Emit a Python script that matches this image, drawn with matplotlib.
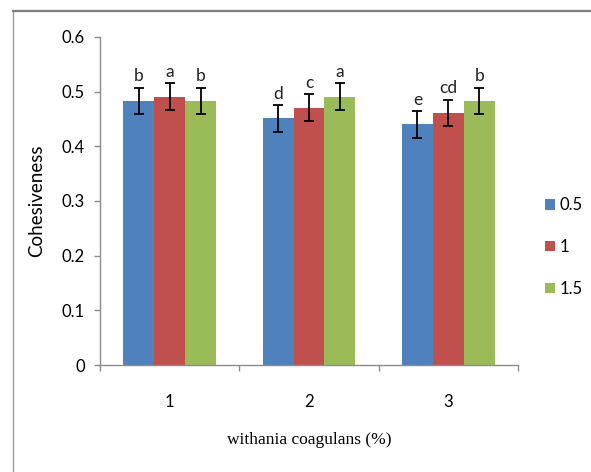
import matplotlib.pyplot as plt
import numpy as np
from matplotlib.patches import Patch
from matplotlib.lines import Line2D

# data
groups = ['1', '2', '3']
series_names = ['0.5', '1', '1.5']
values_05 = [0.483, 0.451, 0.440]
values_1 = [0.491, 0.471, 0.461]
values_15 = [0.483, 0.491, 0.483]
errors_05 = [0.024, 0.024, 0.024]
errors_1 = [0.024, 0.024, 0.024]
errors_15 = [0.024, 0.024, 0.024]
letters_05 = ['b', 'd', 'e']
letters_1 = ['a', 'c', 'cd']
letters_15 = ['b', 'a', 'b']

colors = ['#4F81BD', '#C0504D', '#9BBB59']
axis_color = '#8C8C8C'
tick_font = 'Lato'

W, H = 591, 472
fig = plt.figure(figsize=(W / 100, H / 100), dpi=100)
ax = fig.add_axes([100 / W, (H - 365) / H, 418 / W, 328 / H])

x = np.arange(len(groups)) + 1
bar_w = 0.222
series = [
    (values_05, errors_05, letters_05),
    (values_1, errors_1, letters_1),
    (values_15, errors_15, letters_15),
]
for i, (vals, errs, lets) in enumerate(series):
    pos = x + (i - 1) * bar_w
    ax.bar(pos, vals, width=bar_w, color=colors[i], zorder=2)
    ax.errorbar(pos, vals, yerr=errs, fmt='none', ecolor='black',
                elinewidth=1.3, capsize=3.3, capthick=1.3, zorder=3)
    for p, v, e, t in zip(pos, vals, errs, lets):
        ax.text(p, v + e + 0.007, t, ha='center', va='bottom',
                fontsize=12.5, family=tick_font, color='#222222')

ax.set_xlim(0.5, 3.5)
ax.set_ylim(0, 0.6)
ax.set_yticks(np.arange(0, 0.61, 0.1))
ax.set_yticklabels(['0', '0.1', '0.2', '0.3', '0.4', '0.5', '0.6'])
ax.set_xticks([0.5, 1.5, 2.5, 3.5])
ax.set_xticklabels([])
ax.set_xticks(x, minor=True)
ax.set_xticklabels(groups, minor=True)
ax.tick_params(axis='x', which='minor', length=0, pad=21, labelsize=12)
ax.tick_params(axis='x', which='major', length=4, color=axis_color, width=1)
ax.tick_params(axis='y', length=4, color=axis_color, width=1, pad=7, labelsize=12)
for lab in ax.get_yticklabels() + ax.get_xticklabels(minor=True):
    lab.set_family(tick_font)

for side in ['top', 'right']:
    ax.spines[side].set_visible(False)
for side in ['left', 'bottom']:
    ax.spines[side].set_color(axis_color)
    ax.spines[side].set_linewidth(1)

ax.set_ylabel('Cohesiveness', family=tick_font, fontsize=13.5)
ax.yaxis.set_label_coords(-55 / 418, 0.5)
ax.set_xlabel('withania coagulans (%)', family='Liberation Serif', fontsize=12.5)
ax.xaxis.set_label_coords(0.5, -(432 - 365) / 328)

handles = [Patch(facecolor=c, edgecolor='none') for c in colors]
fig.legend(handles, series_names, loc='center left',
           bbox_to_anchor=(530 / W, (H - 247) / H), frameon=False,
           handlelength=0.6, handleheight=0.6, handletextpad=0.25,
           labelspacing=1.55, prop={'family': tick_font, 'size': 12})

# outer chart border (only top and left are visible in the crop)
fig.add_artist(Line2D([13 / W, 13 / W], [0, (H - 11) / H], color='#9A9A9A', lw=1))
fig.add_artist(Line2D([13 / W, 1], [(H - 11) / H, (H - 11) / H], color='#7F7F7F', lw=1.6))

fig.savefig('out.png', dpi=100)
